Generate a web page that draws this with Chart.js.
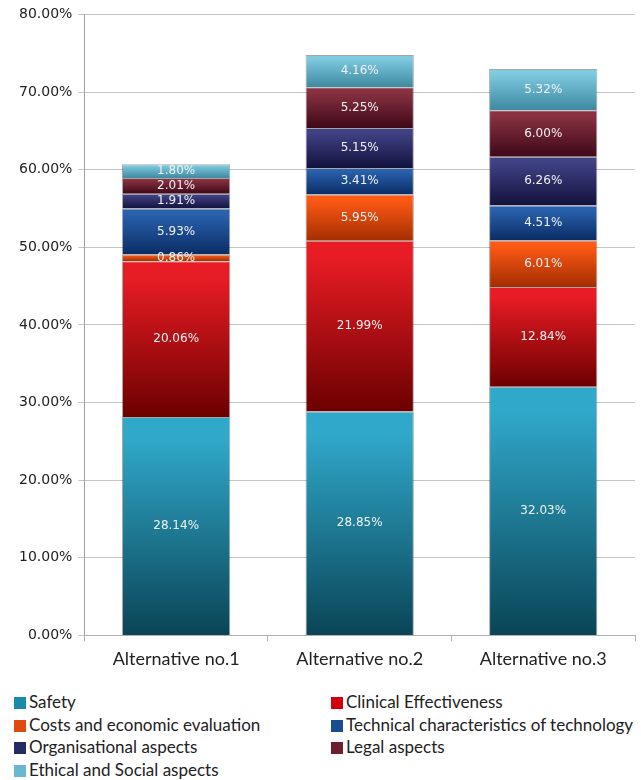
<!DOCTYPE html>
<html>
<head>
<meta charset="utf-8">
<script src="https://cdn.jsdelivr.net/npm/chart.js@4"></script>
<style>
  body { margin: 0; background: #fff; }
  #wrap { position: relative; width: 641px; height: 780px; }
  #chart { position: absolute; left: 0; top: 0; }
  .legend { position: absolute; left: 0; top: 691px; width: 641px; font: 17px Lato, sans-serif; color: #222; }
  .item { position: absolute; height: 22px; line-height: 22px; white-space: nowrap; }
  .item span { display: inline-block; width: 12px; height: 12px; margin-right: 3px; vertical-align: -1px; }
</style>
</head>
<body>
<div id="wrap">
  <canvas id="chart" width="641" height="685"></canvas>
  <div class="legend" id="legend"></div>
</div>
<script>
// categories
var alternatives = ['Alternative no.1', 'Alternative no.2', 'Alternative no.3'];
var criteria = ['Safety', 'Clinical Effectiveness', 'Costs and economic evaluation',
  'Technical characteristics of technology', 'Organisational aspects', 'Legal aspects',
  'Ethical and Social aspects'];

// series values (%)
var safety    = [28.14, 28.85, 32.03];
var clinical  = [20.06, 21.99, 12.84];
var costs     = [0.86, 5.95, 6.01];
var technical = [5.93, 3.41, 4.51];
var organis   = [1.91, 5.15, 6.26];
var legal     = [2.01, 5.25, 6.00];
var ethical   = [1.80, 4.16, 5.32];

var yTicks = [0, 10, 20, 30, 40, 50, 60, 70, 80];

var series = [safety, clinical, costs, technical, organis, legal, ethical];
// top, bottom gradient colours + legend colour
var tops    = ['#30a8ca', '#e81c24', '#ff5a16', '#2a62ae', '#404286', '#8a3242', '#7ecbe0'];
var bottoms = ['#0a4456', '#6c0000', '#a42e00', '#0a2c64', '#12123c', '#3e0818', '#3e88a0'];
var swatch  = ['#1a8aaa', '#d0000e', '#e04a10', '#1a4c90', '#262a66', '#6e1e2e', '#6ab8d0'];

function fill(i) {
  return function (ctx) {
    var chart = ctx.chart;
    var y = chart.scales.y;
    if (!chart.chartArea || !y || ctx.dataIndex === undefined) return swatch[i];
    var j = ctx.dataIndex, base = 0;
    for (var k = 0; k < i; k++) base += series[k][j];
    var y0 = y.getPixelForValue(base + series[i][j]);
    var y1 = y.getPixelForValue(base);
    if (!isFinite(y0) || !isFinite(y1) || y0 === y1) return swatch[i];
    var g = chart.ctx.createLinearGradient(0, y0, 0, y1);
    g.addColorStop(0, tops[i]);
    g.addColorStop(0.1, tops[i]);
    g.addColorStop(1, bottoms[i]);
    return g;
  };
}

var datasets = series.map(function (d, i) {
  return {
    label: criteria[i],
    data: d,
    backgroundColor: fill(i),
    borderColor: 'rgba(0,0,0,0.35)',
    borderWidth: 1,
    barPercentage: 1,
    categoryPercentage: 0.59
  };
});

var valueLabels = {
  id: 'valueLabels',
  afterDatasetsDraw: function (chart) {
    var c = chart.ctx;
    c.save();
    c.font = '12px "DejaVu Sans"';
    c.fillStyle = '#eef2f4';
    c.textAlign = 'center';
    c.textBaseline = 'middle';
    chart.data.datasets.forEach(function (ds, i) {
      chart.getDatasetMeta(i).data.forEach(function (el, j) {
        c.fillText(ds.data[j].toFixed(2) + '%', el.x, (el.y + el.base) / 2);
      });
    });
    c.restore();
  }
};

new Chart(document.getElementById('chart'), {
  type: 'bar',
  data: { labels: alternatives, datasets: datasets },
  options: {
    responsive: false,
    animation: false,
    layout: { padding: { left: 13, top: 14, right: 6, bottom: 8 } },
    plugins: { legend: { display: false }, tooltip: { enabled: false } },
    scales: {
      x: {
        stacked: true,
        grid: { drawOnChartArea: false, tickLength: 6, color: '#b0b0b0' },
        border: { color: '#b0b0b0' },
        ticks: { font: { family: 'Lato', size: 18 }, color: '#222', padding: 7 }
      },
      y: {
        stacked: true,
        min: 0, max: 80,
        afterBuildTicks: function (ax) { ax.ticks = yTicks.map(function (v) { return { value: v }; }); },
        grid: { color: '#c4c4c4', tickLength: 6 },
        border: { color: '#a0a0a0' },
        ticks: {
          font: { family: 'DejaVu Sans', size: 14 }, color: '#222', padding: 6,
          callback: function (v) { return v.toFixed(2) + '%'; }
        }
      }
    }
  },
  plugins: [valueLabels]
});

// legend: two columns
var legend = document.getElementById('legend');
criteria.forEach(function (name, i) {
  var d = document.createElement('div');
  d.className = 'item';
  d.style.left = (i % 2 ? 331 : 14) + 'px';
  d.style.top = (Math.floor(i / 2) * 22.7) + 'px';
  d.innerHTML = '<span style="background:' + swatch[i] + '"></span>' + name;
  legend.appendChild(d);
});
</script>
</body>
</html>
